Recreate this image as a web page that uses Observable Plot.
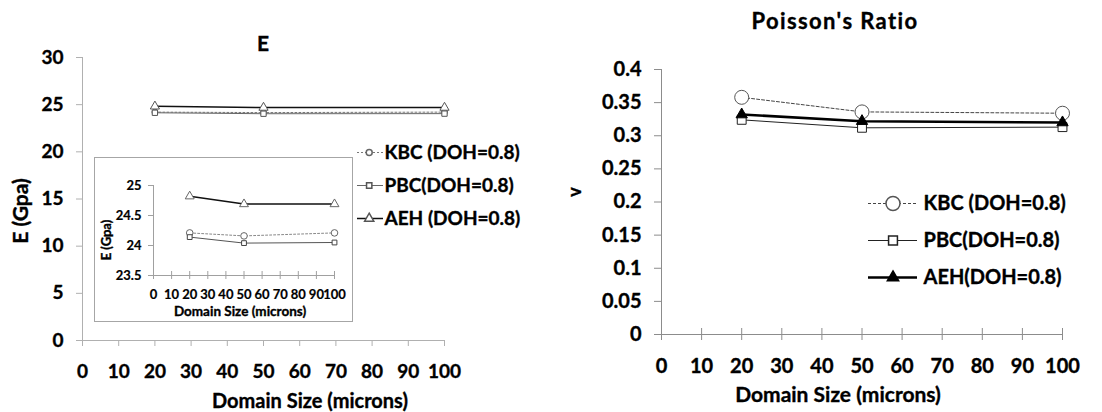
<!DOCTYPE html>
<html><head><meta charset="utf-8">
<script src="https://cdn.jsdelivr.net/npm/d3@7"></script>
<script src="https://cdn.jsdelivr.net/npm/@observablehq/plot@0.6"></script>
<style>
body{margin:0;background:#fff;}
#wrap{position:relative;width:1102px;height:412px;overflow:hidden;font-family:Lato,"Open Sans",sans-serif;font-weight:bold;color:#000;}
.t{position:absolute;white-space:nowrap;transform:translate(-50%,-50%);line-height:1;-webkit-text-stroke:0.35px #000;}
.r{transform:translate(-50%,-50%) rotate(-90deg);}
#inset{position:absolute;left:94px;top:157px;width:257px;height:163px;border:1px solid #a6a6a6;background:#fff;}
</style></head><body><div id="wrap"></div>
<script>
// ---------- data ----------
const domainSizes = [20, 50, 100];
const xTicks = [0, 10, 20, 30, 40, 50, 60, 70, 80, 90, 100];
const eTicks = [0, 5, 10, 15, 20, 25, 30];
const insetTicks = [23.5, 24, 24.5, 25];
const vTicks = [0, 0.05, 0.1, 0.15, 0.2, 0.25, 0.3, 0.35, 0.4];

const eSeries = ["KBC (DOH=0.8)", "PBC(DOH=0.8)", "AEH (DOH=0.8)"];
const eKBC = [24.21, 24.16, 24.21];
const ePBC = [24.14, 24.04, 24.05];
const eAEH = [24.82, 24.69, 24.69];

const vSeries = ["KBC (DOH=0.8)", "PBC(DOH=0.8)", "AEH(DOH=0.8)"];
const vKBC = [0.358, 0.336, 0.334];
const vPBC = [0.324, 0.312, 0.313];
const vAEH = [0.332, 0.322, 0.320];

// ---------- tables ----------
const toRows = (names, vals) => names.flatMap((n, i) => domainSizes.map((s, j) => ({series: n, idx: i, size: s, value: vals[i][j]})));
const eRows = toRows(eSeries, [eKBC, ePBC, eAEH]);
const vRows = toRows(vSeries, [vKBC, vPBC, vAEH]);
const eLegend = eSeries.map((n, i) => ({series: n, idx: i}));
const vLegend = vSeries.map((n, i) => ({series: n, idx: i}));

// ---------- styles ----------
const symbols = ["circle", "square", "triangle"];
const mainStyle = [
  {stroke: "#777", dash: "2,2", width: 1, mstroke: "#666", mfill: "white", r: 3},
  {stroke: "#666", dash: null, width: 1, mstroke: "#555", mfill: "white", r: 3},
  {stroke: "#111", dash: null, width: 1.5, mstroke: "#555", mfill: "white", r: 3.4}
];
const insetStyle = [
  {stroke: "#888", dash: "2,2", width: 1, mstroke: "#666", mfill: "white", r: 3.3},
  {stroke: "#555", dash: null, width: 1, mstroke: "#444", mfill: "white", r: 2.7},
  {stroke: "#111", dash: null, width: 1.5, mstroke: "#666", mfill: "white", r: 3.3}
];
const vStyle = [
  {stroke: "#444", dash: "3,2", width: 1, mstroke: "#555", mfill: "white", r: 7},
  {stroke: "#222", dash: null, width: 1, mstroke: "#222", mfill: "white", r: 5},
  {stroke: "#000", dash: null, width: 2.6, mstroke: "#000", mfill: "#000", r: 4.2}
];

function seriesMarks(rows, st, x = "size", y = "value") {
  const m = [];
  st.forEach((s, i) => {
    const d = rows.filter(r => r.idx === i);
    m.push(Plot.line(d, {x, y, stroke: s.stroke, strokeWidth: s.width, strokeDasharray: s.dash}));
  });
  st.forEach((s, i) => {
    const d = rows.filter(r => r.idx === i);
    m.push(Plot.dot(d, {x, y, symbol: symbols[i], r: s.r, stroke: s.mstroke, fill: s.mfill, strokeWidth: 1}));
  });
  return m;
}

const wrap = document.getElementById("wrap");
function place(svg, left, top) {
  svg.style.position = "absolute"; svg.style.left = left + "px"; svg.style.top = top + "px";
  wrap.appendChild(svg);
}
function label(text, x, y, size, rotate, spacing) {
  const d = document.createElement("div");
  d.className = "t" + (rotate ? " r" : "");
  d.style.left = x + "px"; d.style.top = y + "px"; d.style.fontSize = size + "px";
  if (spacing) d.style.letterSpacing = spacing + "px";
  d.textContent = text;
  wrap.appendChild(d);
}
const font = {fontFamily: "Lato, 'Open Sans', sans-serif", fontWeight: "bold", background: "transparent", overflow: "visible"};
const heavy = {textStroke: "#000", textStrokeWidth: 0.35};
const fmt = d => String(d);

// ---------- main E chart ----------
const mainE = Plot.plot({
  width: 560, height: 412, marginLeft: 82, marginRight: 116, marginTop: 57, marginBottom: 72,
  x: {domain: [0, 100]}, y: {domain: [0, 30]},
  style: {...font, fontSize: "19px"},
  marks: [
    Plot.axisY({ticks: eTicks, tickSize: 6, tickPadding: 13, tickFormat: fmt, stroke: "#b0b0b0", fill: "#000", label: null, fontSize: 19, fontWeight: "bold", ...heavy}),
    Plot.axisX({ticks: xTicks, tickSize: 6, tickPadding: 18, tickFormat: fmt, stroke: "#b0b0b0", fill: "#000", label: null, fontSize: 19, fontWeight: "bold", ...heavy}),
    Plot.ruleX([0], {stroke: "#b0b0b0"}),
    Plot.ruleY([0], {stroke: "#b0b0b0"}),
    ...seriesMarks(eRows, mainStyle)
  ]
});
place(mainE, 0, 0);
label("E", 263, 42, 21);
label("E (Gpa)", 19, 211, 21, true);
label("Domain Size (microns)", 310, 400, 20);

// ---------- inset ----------
const insetDiv = document.createElement("div");
insetDiv.id = "inset";
wrap.appendChild(insetDiv);
const inset = Plot.plot({
  width: 257, height: 163, marginLeft: 58, marginRight: 18, marginTop: 27, marginBottom: 46,
  x: {domain: [0, 100]}, y: {domain: [23.5, 25]},
  style: {...font, fontSize: "13px"},
  marks: [
    Plot.axisY({ticks: insetTicks, tickSize: 5, tickPadding: 7, tickFormat: fmt, stroke: "#a0a0a0", fill: "#000", label: null, fontSize: 13, fontWeight: "bold", textStroke: "#000", textStrokeWidth: 0.2}),
    Plot.axisX({ticks: xTicks, tickSize: 8, dy: -4, stroke: "#a0a0a0", fill: null, label: null}),
    Plot.axisX({ticks: xTicks, tickSize: 0, tickPadding: 14, tickFormat: fmt, fill: "#000", label: null, fontSize: 13, fontWeight: "bold", textStroke: "#000", textStrokeWidth: 0.2}),
    Plot.ruleX([0], {stroke: "#a0a0a0"}),
    Plot.ruleY([23.5], {stroke: "#a0a0a0"}),
    ...seriesMarks(eRows, insetStyle)
  ]
});
inset.style.display = "block";
insetDiv.appendChild(inset);
label("E (Gpa)", 106, 240, 13, true);
label("Domain Size (microns)", 240, 312, 13.5);

// ---------- left legend ----------
const legE = Plot.plot({
  width: 200, height: 100, margin: 0,
  x: {domain: [0, 1], range: [7, 33]},
  y: {type: "point", domain: eSeries, range: [17, 83], padding: 0},
  axis: null,
  style: {...font, fontSize: "19px"},
  marks: [
    ...mainStyle.map((s, i) => Plot.ruleY(eLegend.filter(d => d.idx === i), {y: "series", x1: 0, x2: 1, stroke: s.stroke, strokeWidth: s.width, strokeDasharray: s.dash})),
    ...mainStyle.map((s, i) => Plot.dot(eLegend.filter(d => d.idx === i), {y: "series", x: 0.45, symbol: symbols[i], r: s.r, stroke: s.mstroke, fill: s.mfill})),
    Plot.text(eLegend, {y: "series", x: 1, text: "series", textAnchor: "start", dx: 1, fontSize: 19, fontWeight: "bold", fill: "#000", stroke: "#000", strokeWidth: 0.35})
  ]
});
place(legE, 350, 135);

// ---------- Poisson chart ----------
const vPlot = Plot.plot({
  width: 542, height: 412, marginLeft: 101, marginRight: 40, marginTop: 69, marginBottom: 78,
  x: {domain: [0, 100]}, y: {domain: [0, 0.4]},
  style: {...font, fontSize: "20px"},
  marks: [
    Plot.axisY({ticks: vTicks, tickSize: 7, tickPadding: 13, tickFormat: fmt, stroke: "#8c8c8c", fill: "#000", label: null, fontSize: 20, fontWeight: "bold", ...heavy}),
    Plot.axisX({ticks: xTicks, tickSize: 12, dy: -6, stroke: "#8c8c8c", fill: null, label: null}),
    Plot.axisX({ticks: xTicks, tickSize: 0, tickPadding: 24, tickFormat: fmt, fill: "#000", label: null, fontSize: 20, fontWeight: "bold", ...heavy}),
    Plot.ruleX([0], {stroke: "#8c8c8c"}),
    Plot.ruleY([0], {stroke: "#8c8c8c"}),
    ...seriesMarks(vRows, vStyle)
  ]
});
place(vPlot, 560, 0);
label("Poisson's Ratio", 835, 21, 22, false, 1.4);
label("v", 574, 192, 18, true);
label("Domain Size (microns)", 838, 393, 21);

// ---------- right legend ----------
const legV = Plot.plot({
  width: 242, height: 120, margin: 0,
  x: {domain: [0, 1], range: [8, 57]},
  y: {type: "point", domain: vSeries, range: [22, 97], padding: 0},
  axis: null,
  style: {...font, fontSize: "20px"},
  marks: [
    ...vStyle.map((s, i) => Plot.ruleY(vLegend.filter(d => d.idx === i), {y: "series", x1: 0, x2: 1, stroke: s.stroke, strokeWidth: s.width, strokeDasharray: s.dash})),
    ...vStyle.map((s, i) => Plot.dot(vLegend.filter(d => d.idx === i), {y: "series", x: 0.5, symbol: symbols[i], r: s.r, stroke: s.mstroke, fill: s.mfill})),
    Plot.text(vLegend, {y: "series", x: 1, text: "series", textAnchor: "start", dx: 6, fontSize: 20, fontWeight: "bold", fill: "#000", stroke: "#000", strokeWidth: 0.35})
  ]
});
place(legV, 860, 180);
</script></body></html>
